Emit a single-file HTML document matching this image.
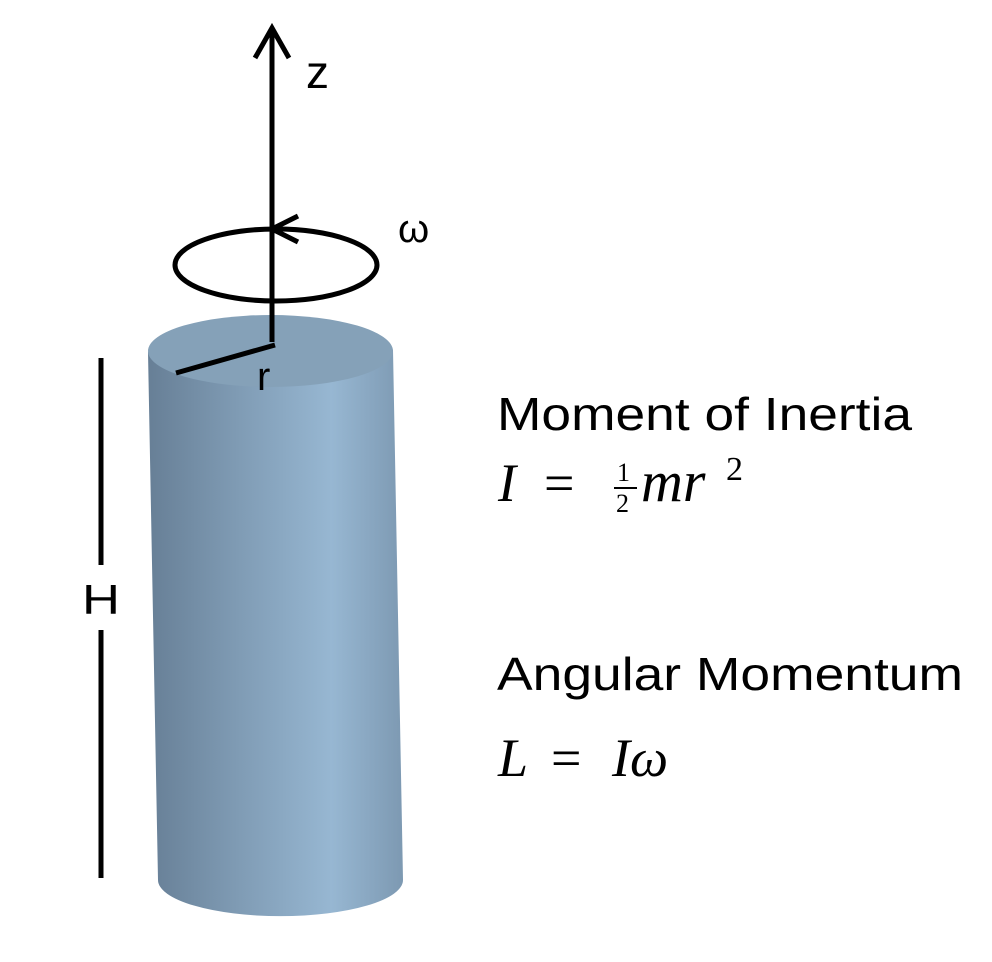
<!DOCTYPE html>
<html><head><meta charset="utf-8"><style>html,body{margin:0;padding:0;background:#fff}svg{display:block}</style></head>
<body>
<svg width="992" height="962" viewBox="0 0 992 962" xmlns="http://www.w3.org/2000/svg">
<defs>
<linearGradient id="g" x1="0" x2="1" y1="0" y2="0">
<stop offset="0" stop-color="#677f96"/>
<stop offset="0.35" stop-color="#7f9bb4"/>
<stop offset="0.72" stop-color="#97b7d2"/>
<stop offset="1" stop-color="#7d99b2"/>
</linearGradient>
</defs>
<path d="M148,352 L158,880 A122,36 0 0 0 403,880 L393,350 Z" fill="url(#g)"/>
<ellipse cx="270.5" cy="351" rx="122.5" ry="36" fill="#85a1b8"/>
<g stroke="#000" stroke-width="5" fill="none" stroke-linecap="butt">
<line x1="272" y1="28" x2="272" y2="342"/>
<polyline points="255,58 272,28 289,58"/>
<ellipse cx="276" cy="265" rx="101" ry="36"/>
<polyline points="298,216 272,229 298,242"/>
<line x1="176" y1="373" x2="275" y2="345"/>
<line x1="101" y1="358" x2="101" y2="565"/>
<line x1="101" y1="630" x2="101" y2="878"/>
</g>
<g font-family="Liberation Sans, sans-serif" fill="#000">
<text x="306" y="88" font-size="46">z</text>
<text x="398" y="242" font-size="40">ω</text>
<text x="257" y="390" font-size="40">r</text>
<text x="82" y="614" font-size="42" textLength="38" lengthAdjust="spacingAndGlyphs">H</text>
<text x="497" y="430" font-size="46" textLength="415" lengthAdjust="spacingAndGlyphs">Moment of Inertia</text>
<text x="497" y="690" font-size="46" textLength="466" lengthAdjust="spacingAndGlyphs">Angular Momentum</text>
</g>
<g font-family="Liberation Serif, serif" fill="#000">
<text x="498" y="501" font-size="54" font-style="italic">I</text>
<text x="544" y="501" font-size="54">=</text>
<text x="617" y="481" font-size="26">1</text>
<line x1="614" y1="488" x2="637" y2="488" stroke="#000" stroke-width="2"/>
<text x="616" y="512" font-size="26">2</text>
<text x="641" y="501" font-size="58" font-style="italic">mr</text>
<text x="726" y="480" font-size="34">2</text>
<text x="498" y="776" font-size="54" font-style="italic">L</text>
<text x="551" y="776" font-size="54">=</text>
<text x="612" y="776" font-size="54" font-style="italic">Iω</text>
</g>
</svg>
</body></html>
